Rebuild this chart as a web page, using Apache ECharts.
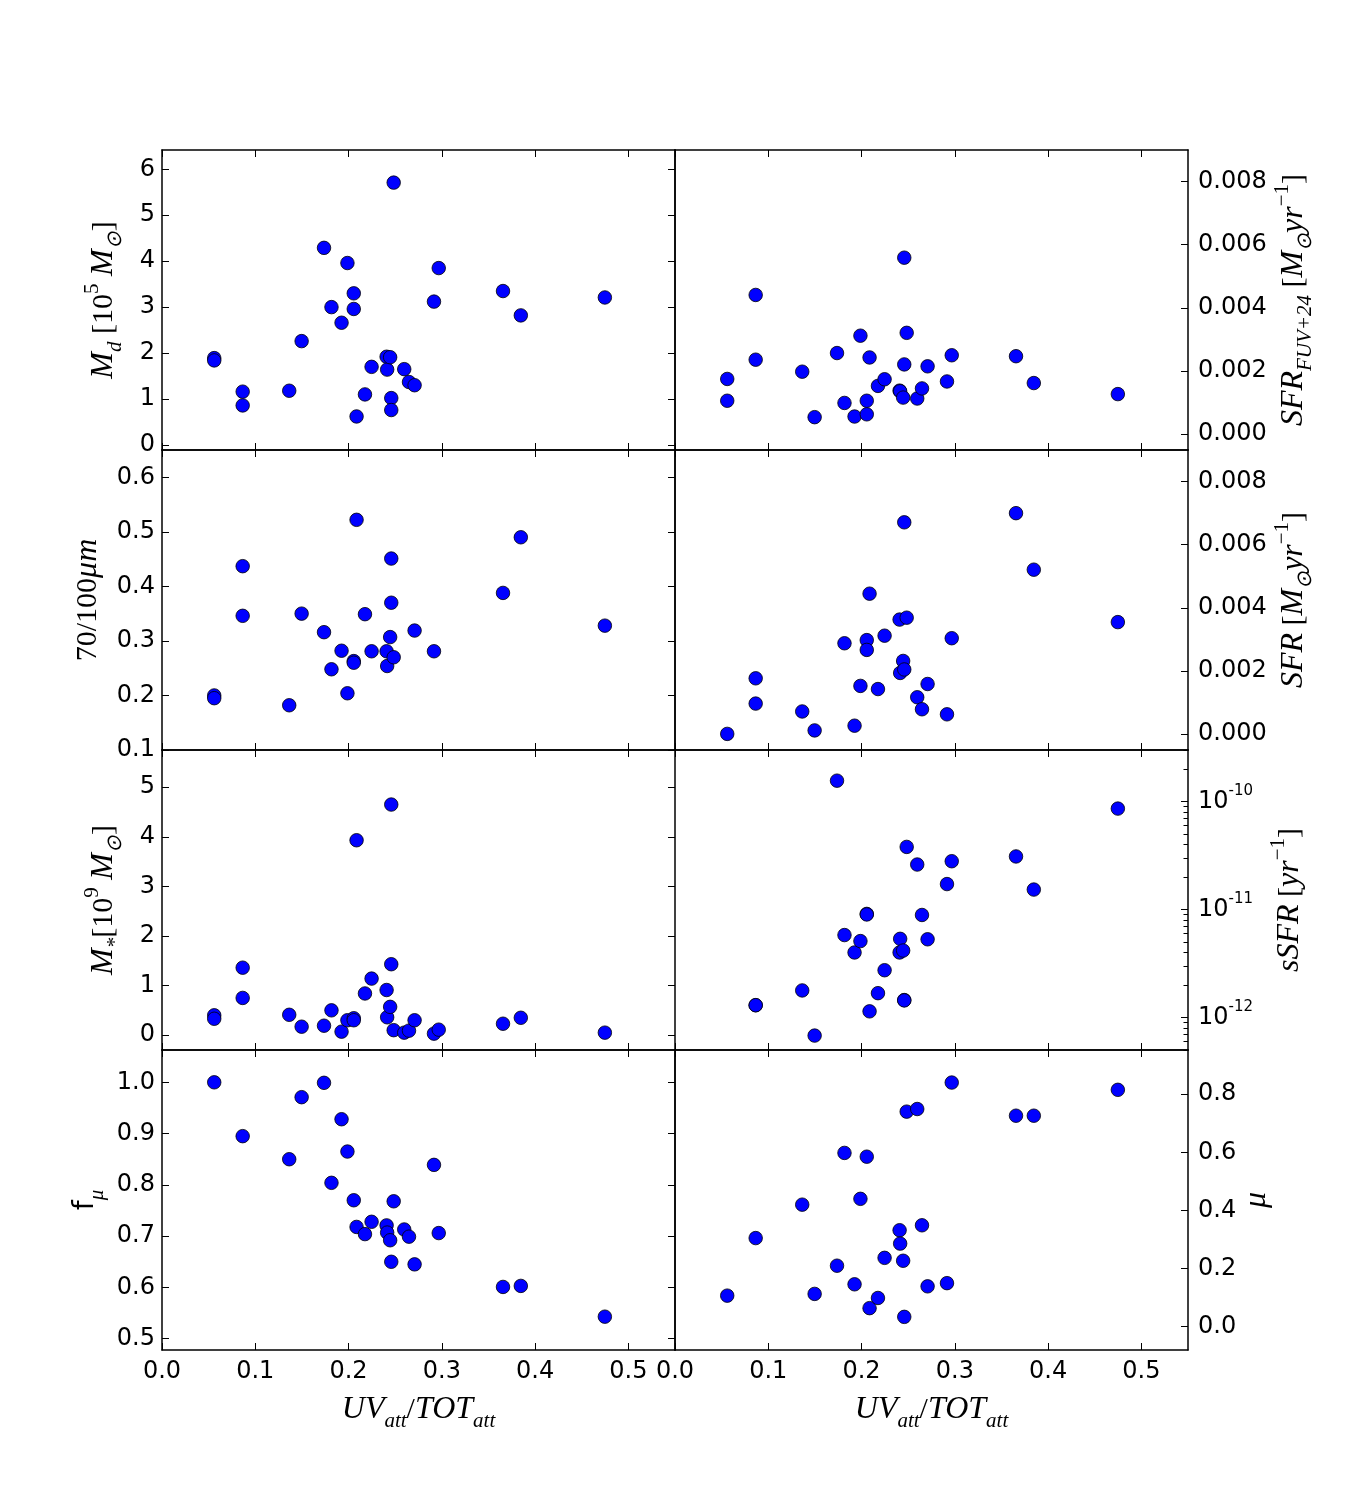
<!DOCTYPE html>
<html><head><meta charset="utf-8">
<script src="https://cdn.jsdelivr.net/npm/echarts@6/dist/echarts.min.js"></script>
<style>html,body{margin:0;padding:0;background:#fff}#c{width:1350px;height:1500px}</style>
</head><body><div id="c"></div>
<script>
// ---- data (one entry per galaxy) ----
const uvRatio = [0.056,0.056,0.0865,0.0865,0.1364,0.1497,0.1737,0.1817,0.1925,0.1988,0.2056,0.2056,0.2086,0.2176,0.2247,0.2408,0.2414,0.2446,0.2458,0.2458,0.2484,0.2597,0.2648,0.2708,0.2916,0.2967,0.3656,0.3847,0.4748];
const dustMass = [1.89,1.84,1.16,0.86,1.18,2.26,4.29,3.00,2.66,3.96,3.30,2.96,0.62,1.10,1.70,1.92,1.64,1.91,1.02,0.76,5.71,1.65,1.37,1.30,3.12,3.85,3.35,2.82,3.21];
const sfrFuv24 = [0.00175,0.00106,0.00441,0.00236,0.00198,0.00054,0.00257,0.00099,0.00056,0.00312,0.00106,0.00063,0.00243,0.00153,0.00174,0.00138,0.00136,0.00116,0.00559,0.00221,0.00321,0.00113,0.00145,0.00215,0.00167,0.00250,0.00247,0.00162,0.00127];
const ratio70100 = [0.200,0.195,0.437,0.346,0.182,0.350,0.316,0.248,0.282,0.204,0.263,0.260,0.522,0.349,0.281,0.281,0.254,0.307,0.451,0.370,0.270,null,null,0.319,0.281,null,0.388,0.490,0.328];
const sfr = [0.00001,null,0.00177,0.00097,0.00072,0.00012,null,0.00288,0.00027,0.00153,0.00298,0.00267,0.00445,0.00143,0.00312,0.00363,0.00194,0.00232,0.00671,0.00205,0.00369,0.00117,0.00079,0.00159,0.00063,0.00304,0.00700,0.00521,0.00355];
const stellarMass = [0.40,0.33,1.36,0.75,0.41,0.17,0.19,0.50,0.07,0.30,0.34,0.30,3.93,0.84,1.14,0.91,0.36,0.57,4.65,1.43,0.10,0.05,0.09,0.30,0.03,0.11,0.23,0.35,0.05];
const sSFR = [null,null,1.30e-12,1.30e-12,1.78e-12,6.8e-13,1.56e-10,5.8e-12,4.0e-12,5.1e-12,9.1e-12,9.0e-12,1.14e-12,1.68e-12,2.74e-12,4.0e-12,5.35e-12,4.17e-12,1.45e-12,1.44e-12,3.8e-11,2.61e-11,8.9e-12,5.3e-12,1.72e-11,2.8e-11,3.1e-11,1.53e-11,8.6e-11];
const fMu = [1.000,null,0.895,null,0.850,0.971,0.999,0.804,0.928,0.865,0.770,null,0.718,0.704,0.728,0.721,0.707,0.692,0.650,null,0.768,0.713,0.699,0.645,0.839,0.706,0.601,0.603,0.543];
const mu = [0.107,null,0.305,null,0.420,0.113,0.210,0.598,0.146,0.440,0.585,null,0.064,0.099,0.237,0.332,0.286,0.227,0.034,null,0.740,0.749,0.349,0.139,0.150,0.840,0.726,0.726,0.815];

// ---- tick values ----
const xTicks = [0, 0.1, 0.2, 0.3, 0.4, 0.5];
const dustTicks = [0, 1, 2, 3, 4, 5, 6];
const ratioTicks = [0.1, 0.2, 0.3, 0.4, 0.5, 0.6];
const sfrTicks = [0, 0.002, 0.004, 0.006, 0.008];
const mstarTicks = [0, 1, 2, 3, 4, 5];
const ssfrTicks = [1e-12, 1e-11, 1e-10];
const ssfrMinorTicks = [5e-13,6e-13,7e-13,8e-13,9e-13,2e-12,3e-12,4e-12,5e-12,6e-12,7e-12,8e-12,9e-12,2e-11,3e-11,4e-11,5e-11,6e-11,7e-11,8e-11,9e-11,2e-10,3e-10];
const fmuTicks = [0.5, 0.6, 0.7, 0.8, 0.9, 1.0];
const muTicks = [0, 0.2, 0.4, 0.6, 0.8];

const SANS = 'DejaVu Sans';
const SERIF = 'Liberation Serif';
const nameRich = {
  i:   {fontFamily: SERIF, fontStyle: 'italic', fontSize: 32, lineHeight: 44, color: '#000'},
  r:   {fontFamily: SERIF, fontSize: 30, lineHeight: 44, color: '#000'},
  sf:  {fontFamily: SANS, fontSize: 28, lineHeight: 44, color: '#000'},
  sub: {fontFamily: SERIF, fontStyle: 'italic', fontSize: 21, lineHeight: 30, verticalAlign: 'bottom', color: '#000'},
  sup: {fontFamily: SERIF, fontSize: 21, lineHeight: 26, verticalAlign: 'top', color: '#000'}
};

const panels = [
  {row:0, col:0, values:dustMass, min:-0.11, max:6.42, ticks:dustTicks, fmt:v=>v.toFixed(0),
   name:'{i|M}{sub|d}{r| [10}{sup|5}{r| }{i|M}{sub|⊙}{r|]}', gap:36},
  {row:0, col:1, values:sfrFuv24, min:-0.0005, max:0.009, ticks:sfrTicks, fmt:v=>v.toFixed(3),
   name:'{i|SFR}{sub|FUV+24}{r| [}{i|M}{sub|⊙}{i|yr}{sup|−1}{r|]}', gap:84},
  {row:1, col:0, values:ratio70100, min:0.1, max:0.65, ticks:ratioTicks, fmt:v=>v.toFixed(1),
   name:'{r|70/100}{i|μm}', gap:52},
  {row:1, col:1, values:sfr, min:-0.0005, max:0.009, ticks:sfrTicks, fmt:v=>v.toFixed(3),
   name:'{i|SFR}{r| [}{i|M}{sub|⊙}{i|yr}{sup|−1}{r|]}', gap:84},
  {row:2, col:0, values:stellarMass, min:-0.3, max:5.75, ticks:mstarTicks, fmt:v=>v.toFixed(0),
   name:'{i|M}{sub|*}{r|[10}{sup|9}{r| }{i|M}{sub|⊙}{r|]}', gap:36},
  {row:2, col:1, values:sSFR, log:true, min:5e-13, max:3e-10, ticks:ssfrTicks, minor:ssfrMinorTicks,
   fmt:v=>'{b|10}{s|' + Math.round(Math.log10(v)) + '}',
   name:'{i|sSFR}{r| [}{i|yr}{sup|−1}{r|]}', gap:80},
  {row:3, col:0, values:fMu, min:0.478, max:1.063, ticks:fmuTicks, fmt:v=>v.toFixed(1),
   name:'{sf|f}{sub|μ}', gap:54},
  {row:3, col:1, values:mu, min:-0.08, max:0.952, ticks:muTicks, fmt:v=>v.toFixed(1),
   name:'{i|μ}', gap:47}
];

const grids = [], xAxes = [], yAxes = [], series = [];
const lineStyle = {color: '#000', width: 1.5};
panels.forEach((p, gi) => {
  const left = p.col === 0 ? 162 : 675;
  const top = 150 + p.row * 300;
  grids.push({left: left, top: top, width: 513, height: 300, containLabel: false});
  const xBase = {
    gridIndex: gi, type: 'value', min: 0, max: 0.55,
    splitLine: {show: false},
    axisLine: {show: true, onZero: false, lineStyle: lineStyle},
    axisTick: {show: true, inside: true, length: 7, customValues: xTicks, lineStyle: {color: '#000', width: 1}},
  };
  const xi = xAxes.length;
  xAxes.push(Object.assign({}, xBase, {
    position: 'bottom',
    axisLabel: {show: p.row === 3, customValues: xTicks, formatter: v => v.toFixed(1),
      fontFamily: SANS, fontSize: 24, color: '#000', margin: 10},
    name: p.row === 3 ? '{i|UV}{sub|att}{r|/}{i|TOT}{sub|att}' : '',
    nameLocation: 'middle', nameGap: 38,
    nameTextStyle: {rich: nameRich}
  }));
  xAxes.push(Object.assign({}, xBase, {position: 'top', axisLabel: {show: false}}));

  const side = p.col === 0 ? 'left' : 'right';
  const other = p.col === 0 ? 'right' : 'left';
  const yBase = {
    gridIndex: gi, type: p.log ? 'log' : 'value', logBase: 10, min: p.min, max: p.max,
    splitLine: {show: false},
    axisLine: {show: true, onZero: false, lineStyle: lineStyle},
    axisTick: {show: true, inside: true, length: 7, customValues: p.ticks, lineStyle: {color: '#000', width: 1}}
  };
  const yi = yAxes.length;
  yAxes.push(Object.assign({}, yBase, {
    position: side,
    axisLabel: {show: true, customValues: p.ticks, formatter: p.fmt,
      fontFamily: SANS, fontSize: 24, color: '#000', margin: p.col === 0 ? 7 : 10,
      rich: {b: {fontFamily: SANS, fontSize: 24, lineHeight: 36, color: '#000'},
             s: {fontFamily: SANS, fontSize: 15, lineHeight: 15, verticalAlign: 'top', color: '#000'}}},
    name: p.name, nameLocation: 'middle', nameRotate: 90, nameGap: p.gap,
    nameTextStyle: {rich: nameRich}
  }));
  if (p.minor) {
    // log panel: the second (left-positioned) axis is shifted onto the right edge and carries the minor ticks
    yAxes.push(Object.assign({}, yBase, {position: 'left', offset: -513, axisLabel: {show: false},
      axisLine: {show: false},
      axisTick: {show: true, inside: false, length: 4.5, customValues: p.minor, lineStyle: {color: '#000', width: 1}}}));
  } else {
    // left panels keep inward ticks on their right edge; right panels have ticks on the right only
    yAxes.push(Object.assign({}, yBase, {position: other, axisLabel: {show: false},
      axisTick: p.col === 0 ? yBase.axisTick : {show: false}}));
  }
  const data = [];
  uvRatio.forEach((x, k) => { if (p.values[k] != null) data.push([x, p.values[k]]); });
  series.push({
    type: 'scatter', xAxisIndex: xi, yAxisIndex: yi, data: data,
    symbol: 'circle', symbolSize: 13.5, clip: true,
    itemStyle: {color: '#0000ff', borderColor: '#000', borderWidth: 0.8, opacity: 1},
    emphasis: {disabled: true}, animation: false
  });
});

const chart = echarts.init(document.getElementById('c'), null, {renderer: 'canvas'});
chart.setOption({
  backgroundColor: '#fff',
  animation: false,
  grid: grids, xAxis: xAxes, yAxis: yAxes, series: series
});
</script>
</body></html>
